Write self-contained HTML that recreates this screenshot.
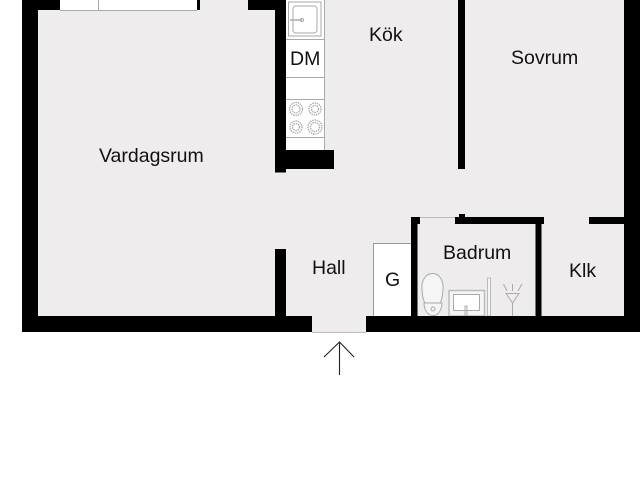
<!DOCTYPE html>
<html><head><meta charset="utf-8"><style>
html,body{margin:0;padding:0;background:#fff;width:640px;height:480px;overflow:hidden}
svg{display:block}
text{font-family:"Liberation Sans",sans-serif;font-size:19.5px;fill:#111}
</style></head><body>
<svg width="640" height="480" viewBox="0 0 640 480" xmlns="http://www.w3.org/2000/svg">
<rect width="640" height="480" fill="#fff"/>
<rect x="22" y="0" width="618" height="332" fill="#efecee"/>
<!-- window -->
<rect x="60" y="0" width="137" height="10" fill="#fff"/>
<path d="M60 10.5H197M98.5 0V10" stroke="#aaa" fill="none"/>
<!-- counter -->
<rect x="286" y="0" width="38" height="150" fill="#fff"/>
<path d="M324.5 0V150" stroke="#aaa" fill="none"/>
<path d="M286 39.5H324M286 77.5H324M286 99.5H324M286 137.5H324" stroke="#aaa" fill="none"/>
<g fill="none" stroke="#aaa">
<rect x="288.500" y="2" width="32.500" height="34"/>
<rect x="293" y="6" width="24" height="27" rx="3"/>
<path d="M290 20H302" stroke-width="1.5"/><circle cx="302" cy="20" r="1.5"/>
<g stroke-width="1.3" stroke-dasharray="1.5 .8">
<circle cx="296" cy="109" r="6.5"/><circle cx="296" cy="109" r="4"/>
<circle cx="315" cy="109" r="6"/><circle cx="315" cy="109" r="3.5"/>
<circle cx="296" cy="127" r="6"/><circle cx="296" cy="127" r="3.5"/>
<circle cx="315" cy="127" r="7"/><circle cx="315" cy="127" r="4.5"/>
</g></g>
<!-- G closet -->
<rect x="373" y="243" width="38" height="73" fill="#fff"/>
<path d="M373.5 316V243.5H411" stroke="#999" fill="none"/>
<!-- bath door -->
<path d="M420 217.5H455" stroke="#bbb" fill="none"/>
<!-- fixtures -->
<g fill="none" stroke="#aaa">
<path d="M422 290C421 280 426 273.500 432.500 273.500C439 273.500 444 280 443 290C442.500 296 441.500 301 440 303H425C423.500 301 422.500 296 422 290Z" fill="#f6f5f6"/>
<path d="M424 303C424 310 428 315.500 433 315.500C438 315.500 442 310 442 303Z" fill="#f6f5f6"/>
<circle cx="433" cy="309" r="2"/>
<rect x="449" y="290.500" width="35.500" height="25.500" fill="#f6f5f6" stroke="#bbb" stroke-width="1.500"/>
<rect x="453.500" y="294.500" width="26" height="16" fill="#fff"/>
<path d="M465 316V306H467V316"/>
<rect x="487.500" y="278" width="3" height="38" fill="#f6f5f6" stroke="#bbb"/>
<path d="M506 293.500H519L512.500 303ZM512.500 303V316M512.500 284V291M503.500 284L507 291M522 284L518 291"/>
</g>
<!-- walls -->
<g fill="#000">
<rect x="22" y="0" width="16" height="332"/>
<rect x="22" y="0" width="38" height="10"/>
<rect x="197" y="0" width="3" height="10"/>
<rect x="248" y="0" width="38" height="10"/>
<rect x="275" y="0" width="11" height="172.500"/>
<rect x="275" y="150" width="59" height="19"/>
<rect x="458" y="0" width="7" height="169"/>
<rect x="624" y="0" width="16" height="332"/>
<rect x="22" y="316" width="290" height="16"/>
<rect x="366" y="316" width="274" height="16"/>
<rect x="275" y="249" width="11" height="67"/>
<rect x="411" y="217" width="6.500" height="99"/>
<rect x="411" y="217" width="9" height="7"/>
<rect x="455" y="217" width="89" height="7"/>
<rect x="459" y="214" width="6" height="3"/>
<rect x="535.500" y="224" width="6" height="92"/>
<rect x="589" y="217" width="35" height="7"/>
</g>
<path d="M312 332.500H366" stroke="#bbb" fill="none"/>
<!-- arrow -->
<path d="M339.500 342V375M324 357L339.500 342L354 357" stroke="#222" stroke-width="1.100" fill="none"/>
<!-- labels -->
<text x="369" y="41">Kök</text>
<text x="511" y="64">Sovrum</text>
<text x="290" y="65">DM</text>
<text x="99" y="162">Vardagsrum</text>
<text x="312" y="274">Hall</text>
<text x="385" y="286">G</text>
<text x="443" y="259">Badrum</text>
<text x="569" y="277">Klk</text>
</svg>
</body></html>
